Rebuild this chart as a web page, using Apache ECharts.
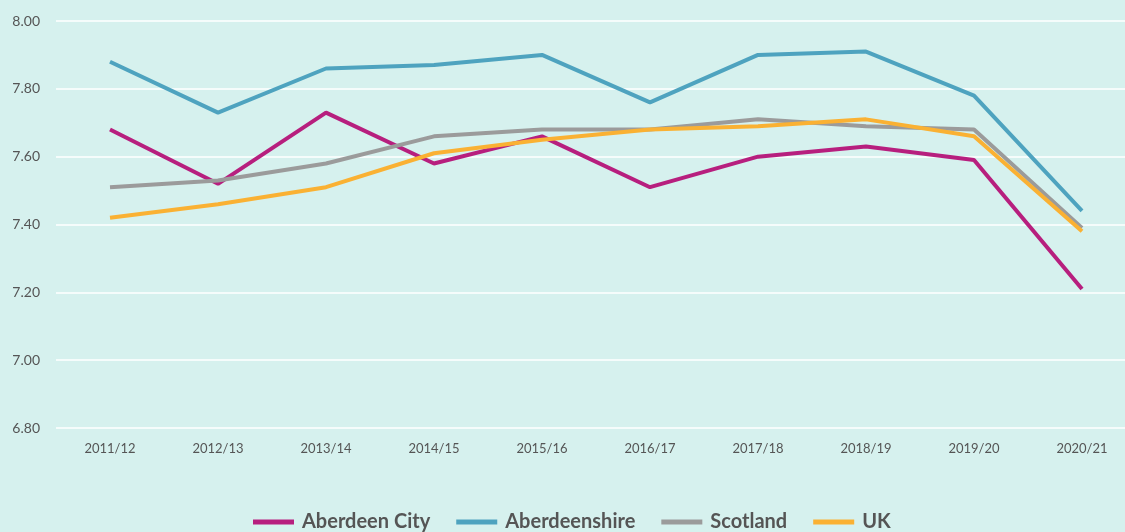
<!DOCTYPE html>
<html>
<head>
<meta charset="utf-8">
<script src="https://cdn.jsdelivr.net/npm/echarts@6/dist/echarts.min.js"></script>
<style>
  html, body { margin: 0; padding: 0; background: #d6f1ee; }
  #chart { width: 1125px; height: 532px; }
</style>
</head>
<body>
<div id="chart"></div>
<script>
var years = ['2011/12', '2012/13', '2013/14', '2014/15', '2015/16', '2016/17', '2017/18', '2018/19', '2019/20', '2020/21'];
var aberdeenCity = [7.68, 7.52, 7.73, 7.58, 7.66, 7.51, 7.60, 7.63, 7.59, 7.21];
var aberdeenshire = [7.88, 7.73, 7.86, 7.87, 7.90, 7.76, 7.90, 7.91, 7.78, 7.44];
var scotland = [7.51, 7.53, 7.58, 7.66, 7.68, 7.68, 7.71, 7.69, 7.68, 7.39];
var uk = [7.42, 7.46, 7.51, 7.61, 7.65, 7.68, 7.69, 7.71, 7.66, 7.38];

var colors = ['#b71f7e', '#4ea3bf', '#9b9b9b', '#fab133'];
var font = 'Lato, "Open Sans", sans-serif';

var chart = echarts.init(document.getElementById('chart'));

function line(name, data, color) {
    return {
        name: name,
        type: 'line',
        data: data,
        showSymbol: false,
        symbol: 'none',
        lineStyle: { width: 4, color: color },
        itemStyle: { color: color }
    };
}

var option = {
    backgroundColor: '#d6f1ee',
    animation: false,
    color: colors,
    grid: { left: 56, right: -11, top: 21, bottom: 104, outerBoundsMode: 'none' },
    legend: {
        top: 512,
        left: 253,
        padding: 0,
        icon: 'rect',
        itemWidth: 41,
        itemHeight: 5,
        itemGap: 26,
        textStyle: {
            fontFamily: font, fontSize: 20, fontWeight: 'bold', color: '#555',
            padding: [0, 0, 0, 3]
        },
        data: ['Aberdeen City', 'Aberdeenshire', 'Scotland', 'UK']
    },
    xAxis: {
        type: 'category',
        data: years,
        boundaryGap: true,
        axisLine: { show: false },
        axisTick: { show: false },
        axisLabel: { fontFamily: font, fontSize: 13, color: '#555', margin: 14 }
    },
    yAxis: {
        type: 'value',
        min: 6.8,
        max: 8.0,
        interval: 0.2,
        axisLine: { show: false },
        axisTick: { show: false },
        splitLine: { lineStyle: { color: '#ffffff', width: 1.5 } },
        axisLabel: {
            fontFamily: font, fontSize: 14, color: '#555', margin: 16,
            formatter: function (v) { return v.toFixed(2); }
        }
    },
    series: [
        line('Aberdeen City', aberdeenCity, colors[0]),
        line('Aberdeenshire', aberdeenshire, colors[1]),
        line('Scotland', scotland, colors[2]),
        line('UK', uk, colors[3])
    ]
};

chart.setOption(option);
</script>
</body>
</html>
